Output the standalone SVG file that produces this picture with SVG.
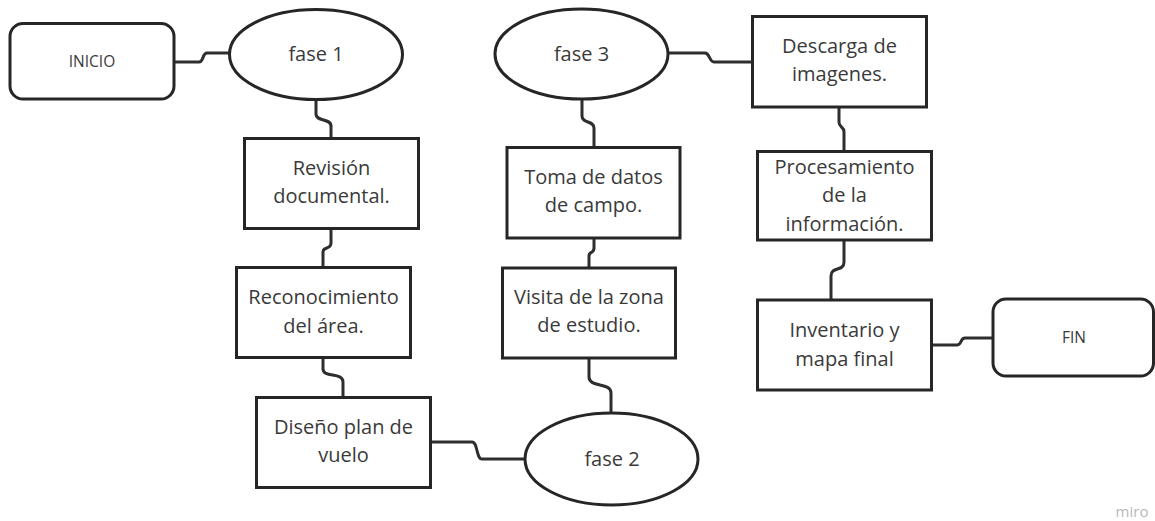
<svg xmlns="http://www.w3.org/2000/svg" width="1155" height="521" viewBox="0 0 1155 521">
<style>
.shape{fill:#ffffff;stroke:#262626;stroke-width:3}
.conn{fill:none;stroke:#2e2e2e;stroke-width:3}
.t{font-family:"Open Sans","Liberation Sans",sans-serif;font-size:20px;fill:#3a3a3a;text-anchor:middle}
.ts{font-family:"Open Sans","Liberation Sans",sans-serif;font-size:15.5px;fill:#3a3a3a;text-anchor:middle}
.wm{font-family:"Open Sans","Liberation Sans",sans-serif;font-size:15px;fill:#b8b8b8;text-anchor:middle}
</style>
<rect width="1155" height="521" fill="#ffffff"/>
<g id="connectors">
<path class="conn" d="M175,62 H199 C204,62 202,53 207,53 H230"/>
<path class="conn" d="M316,100 V114 C316,122 331,118 331,126 V138"/>
<path class="conn" d="M331,229 V243 C331,250 323,246 323,252 V267"/>
<path class="conn" d="M323,359 V369 C323,378 343,372 343,382 V397"/>
<path class="conn" d="M431,442 H472 C478,442 476,459 482,459 H526"/>
<path class="conn" d="M589,359 V377 C589,388 611,382 611,393 V413"/>
<path class="conn" d="M594,239 V248 C594,254 589,251 589,256 V268"/>
<path class="conn" d="M582,100 V116 C582,124 594,120 594,128 V147"/>
<path class="conn" d="M669,53 H705 C710,53 709,62 714,62 H752"/>
<path class="conn" d="M839,108 V122 C839,128 844,126 844,132 V151"/>
<path class="conn" d="M844,241 V262 C844,272 831,266 831,276 V300"/>
<path class="conn" d="M933,345 H957 C962,345 960,338 965,338 H993"/>
</g>
<g id="inicio">
<rect class="shape" x="10" y="23.5" width="164" height="75.5" rx="13"/>
<text class="ts" x="92" y="67">INICIO</text>
</g>
<g id="fase1">
<ellipse class="shape" cx="316" cy="54.5" rx="86.5" ry="45"/>
<text class="t" x="316" y="61">fase 1</text>
</g>
<g id="revision">
<rect class="shape" x="244.5" y="138.5" width="174" height="90"/>
<text class="t" x="331.5" y="175">Revisión</text>
<text class="t" x="331.5" y="203">documental.</text>
</g>
<g id="reconocimiento">
<rect class="shape" x="236.5" y="267.5" width="174" height="90"/>
<text class="t" x="323.5" y="304">Reconocimiento</text>
<text class="t" x="323.5" y="332.5">del área.</text>
</g>
<g id="diseno">
<rect class="shape" x="256.5" y="397.5" width="174" height="90"/>
<text class="t" x="343.5" y="434">Diseño plan de</text>
<text class="t" x="343.5" y="462">vuelo</text>
</g>
<g id="fase2">
<ellipse class="shape" cx="611.5" cy="459" rx="86.5" ry="46"/>
<text class="t" x="612" y="466">fase 2</text>
</g>
<g id="visita">
<rect class="shape" x="502.5" y="268" width="173" height="90"/>
<text class="t" x="589" y="303.5">Visita de la zona</text>
<text class="t" x="589" y="332">de estudio.</text>
</g>
<g id="toma">
<rect class="shape" x="507" y="147.5" width="173" height="90.5"/>
<text class="t" x="593.5" y="183.5">Toma de datos</text>
<text class="t" x="593.5" y="212">de campo.</text>
</g>
<g id="fase3">
<ellipse class="shape" cx="581.5" cy="54" rx="86.5" ry="45"/>
<text class="t" x="581.5" y="61">fase 3</text>
</g>
<g id="descarga">
<rect class="shape" x="752.5" y="16.5" width="174" height="90.5"/>
<text class="t" x="839.5" y="52.5">Descarga de</text>
<text class="t" x="839.5" y="81">imagenes.</text>
</g>
<g id="procesamiento">
<rect class="shape" x="757.5" y="151.5" width="174" height="88.5"/>
<text class="t" x="844.5" y="173.5">Procesamiento</text>
<text class="t" x="844.5" y="202">de la</text>
<text class="t" x="844.5" y="231">información.</text>
</g>
<g id="inventario">
<rect class="shape" x="757.5" y="300" width="174" height="90"/>
<text class="t" x="844.5" y="337">Inventario y</text>
<text class="t" x="844.5" y="365.5">mapa final</text>
</g>
<g id="fin">
<rect class="shape" x="993" y="299" width="160.5" height="77" rx="13"/>
<text class="ts" x="1074" y="343">FIN</text>
</g>
<text class="wm" x="1132" y="517">miro</text>
</svg>
